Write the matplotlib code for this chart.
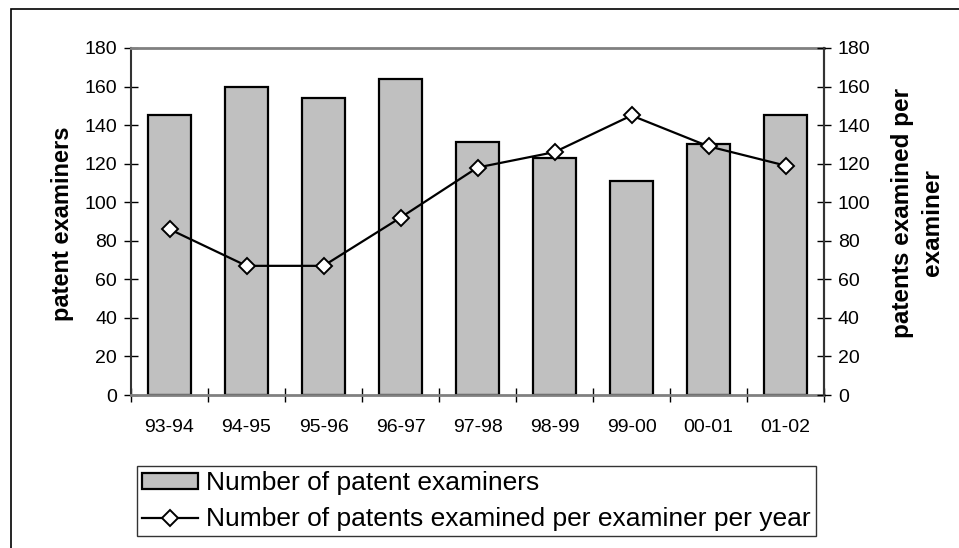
import matplotlib
matplotlib.use("Agg")
import matplotlib.pyplot as plt
from matplotlib.patches import Rectangle
from matplotlib.lines import Line2D
import numpy as np

plt.rcParams['font.family'] = ['Liberation Sans', 'DejaVu Sans']

categories = ["93-94", "94-95", "95-96", "96-97", "97-98", "98-99", "99-00", "00-01", "01-02"]
examiners = [145, 160, 154, 164, 131, 123, 111, 130, 145]
patents_per_examiner = [86, 67, 67, 92, 118, 126, 145, 129, 119]
y_ticks = [0, 20, 40, 60, 80, 100, 120, 140, 160, 180]

W, H = 959, 548
fig = plt.figure(figsize=(W / 100, H / 100), dpi=100)

# outer chart border (extends past the right / bottom edges)
fig.patches.append(Rectangle((11 / W, -0.05), 1.1, 1 - 9 / H + 0.05, transform=fig.transFigure,
                             fill=False, edgecolor='black', lw=1.2))

ax = fig.add_axes([131 / W, 1 - 395 / H, (824 - 131) / W, (395 - 48) / H])
x = np.arange(len(categories))
ax.bar(x, examiners, width=0.56, color='#C0C0C0', edgecolor='black', linewidth=1.6, zorder=2)
ax.set_xlim(-0.5, len(categories) - 0.5)
ax.set_ylim(0, 180)
ax.set_yticks(y_ticks)
ax.set_yticklabels([str(v) for v in y_ticks], fontsize=14)
ax.set_xticks(x)
ax.set_xticklabels(categories, fontsize=14)
ax.tick_params(axis='x', length=0, pad=17.5)
ax.set_xticks(np.arange(len(categories) + 1) - 0.5, minor=True)
ax.tick_params(axis='x', which='minor', direction='inout', length=10, width=1, color='black')
ax.tick_params(axis='y', direction='inout', length=10, width=1, color='black', pad=5)

for s in ['top', 'bottom']:
    ax.spines[s].set_color('#808080')
    ax.spines[s].set_linewidth(2)
for s in ['left', 'right']:
    ax.spines[s].set_color('#333333')
    ax.spines[s].set_linewidth(1.5)

ax2 = ax.twinx()
ax2.plot(x, patents_per_examiner, color='black', lw=1.6, marker='D', markersize=8,
         markerfacecolor='white', markeredgecolor='black', markeredgewidth=1.4, zorder=3)
ax2.set_ylim(0, 180)
ax2.set_yticks(y_ticks)
ax2.set_yticklabels([str(v) for v in y_ticks], fontsize=14)
ax2.tick_params(axis='y', direction='inout', length=10, width=1, color='black', pad=5)
for s in ['top', 'bottom', 'left']:
    ax2.spines[s].set_visible(False)
ax2.spines['right'].set_color('#333333')
ax2.spines['right'].set_linewidth(1.5)

fig.text(62 / W, 1 - 224 / H, "patent examiners", rotation=90, ha='center', va='center',
         fontsize=17, fontweight='bold')
fig.text(903 / W, 1 - 213 / H, "patents examined per", rotation=90, ha='center', va='center',
         fontsize=17.5, fontweight='bold')
fig.text(932 / W, 1 - 223 / H, "examiner", rotation=90, ha='center', va='center',
         fontsize=17.5, fontweight='bold')

handles = [Rectangle((0, 0), 1, 1, facecolor='#C0C0C0', edgecolor='black', lw=1.6),
           Line2D([], [], color='black', lw=1.6, marker='D', markersize=8,
                  markerfacecolor='white', markeredgecolor='black', markeredgewidth=1.4)]
labels = ["Number of patent examiners", "Number of patents examined per examiner per year"]
leg = fig.legend(handles, labels, loc='upper left', bbox_to_anchor=(137 / W, 1 - 466 / H),
                 fontsize=19, frameon=True, fancybox=False, edgecolor='black',
                 handlelength=2.1, handleheight=0.55, handletextpad=0.3, labelspacing=0.45,
                 borderpad=0.2, borderaxespad=0)
leg.get_frame().set_linewidth(1.0)

fig.savefig("out.png", dpi=100)
